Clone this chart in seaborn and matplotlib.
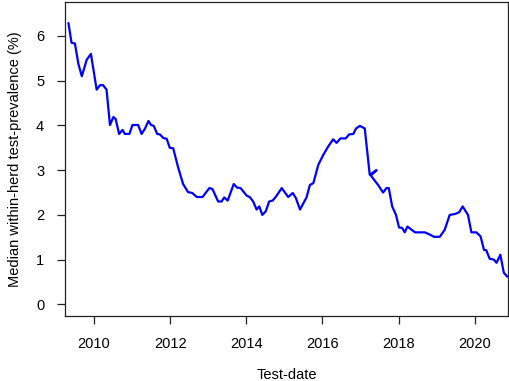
import matplotlib
matplotlib.use("Agg")
import matplotlib.pyplot as plt
import seaborn as sns
import pandas as pd

# values
test_year = [
    2009.33, 2009.41, 2009.50, 2009.59, 2009.68, 2009.81, 2009.92, 2010.07, 2010.16, 2010.24,
    2010.33, 2010.42, 2010.51, 2010.57, 2010.66, 2010.75, 2010.81, 2010.93, 2011.01, 2011.16,
    2011.25, 2011.34, 2011.43, 2011.50, 2011.57, 2011.66, 2011.73, 2011.82, 2011.91, 2011.99,
    2012.08, 2012.21, 2012.34, 2012.47, 2012.58, 2012.70, 2012.85, 2013.03, 2013.11, 2013.26,
    2013.35, 2013.42, 2013.51, 2013.67, 2013.76, 2013.85, 2014.01, 2014.09, 2014.18, 2014.27,
    2014.34, 2014.42, 2014.51, 2014.60, 2014.69, 2014.78, 2014.93, 2015.10, 2015.22, 2015.30,
    2015.41, 2015.58, 2015.67, 2015.76, 2015.89, 2016.02, 2016.15, 2016.28, 2016.37, 2016.47,
    2016.61, 2016.70, 2016.81, 2016.88, 2016.98, 2017.05, 2017.11, 2017.24, 2017.42, 2017.27,
    2017.46, 2017.59, 2017.68, 2017.74, 2017.83, 2017.93, 2018.01, 2018.09, 2018.16, 2018.23,
    2018.43, 2018.69, 2018.82, 2018.93, 2019.08, 2019.21, 2019.34, 2019.48, 2019.59, 2019.68,
    2019.82, 2019.91, 2020.04, 2020.15, 2020.24, 2020.30, 2020.39, 2020.50, 2020.57, 2020.67,
    2020.76, 2020.85,
]
prevalence = [
    6.29, 5.85, 5.83, 5.38, 5.10, 5.47, 5.60, 4.80, 4.90, 4.90,
    4.80, 4.01, 4.19, 4.14, 3.81, 3.90, 3.81, 3.81, 4.01, 4.01,
    3.81, 3.93, 4.10, 4.01, 3.99, 3.81, 3.80, 3.72, 3.70, 3.50,
    3.49, 3.06, 2.69, 2.51, 2.49, 2.40, 2.40, 2.60, 2.58, 2.30,
    2.30, 2.39, 2.32, 2.69, 2.61, 2.60, 2.43, 2.40, 2.30, 2.12,
    2.19, 2.00, 2.08, 2.30, 2.32, 2.41, 2.60, 2.40, 2.49, 2.38,
    2.12, 2.39, 2.67, 2.71, 3.12, 3.34, 3.53, 3.69, 3.61, 3.71,
    3.71, 3.80, 3.81, 3.93, 3.99, 3.96, 3.93, 2.90, 3.00, 2.88,
    2.67, 2.50, 2.60, 2.60, 2.19, 2.00, 1.72, 1.71, 1.61, 1.74,
    1.61, 1.61, 1.56, 1.51, 1.51, 1.67, 2.00, 2.02, 2.06, 2.19,
    2.00, 1.61, 1.61, 1.52, 1.22, 1.21, 1.02, 1.00, 0.93, 1.11,
    0.71, 0.62,
]
x_ticks = [2010, 2012, 2014, 2016, 2018, 2020]
y_ticks = [0, 1, 2, 3, 4, 5, 6]

df = pd.DataFrame({"year": test_year, "prev": prevalence})

sns.set_style("ticks")
plt.rcParams["font.family"] = ["Liberation Sans", "DejaVu Sans"]
plt.rcParams["text.color"] = "black"
plt.rcParams["axes.labelcolor"] = "black"

fig = plt.figure(figsize=(5.1, 3.81), dpi=100)
ax = fig.add_axes([0.1275, 0.1706, 0.8685, 0.8242])

sns.lineplot(data=df, x="year", y="prev", sort=False, color="#0000FF", linewidth=1.6, ax=ax)

ax.set_xlim(2009.24, 2020.87)
ax.set_ylim(-0.26, 6.76)
ax.set_xticks(x_ticks)
ax.set_yticks(y_ticks)
ax.tick_params(direction="out", length=6, width=0.9, color="#222222", labelcolor="black",
               labelsize=10.5, pad=9)
for s in ax.spines.values():
    s.set_visible(True)
    s.set_color("#222222")
    s.set_linewidth(0.9)
ax.set_xlabel("Test-date", fontsize=10.5, labelpad=12, color="black")
ax.set_ylabel("Median within-herd test-prevalence (%)", fontsize=10.5, labelpad=10, color="black")

fig.savefig("out.png", dpi=100)
